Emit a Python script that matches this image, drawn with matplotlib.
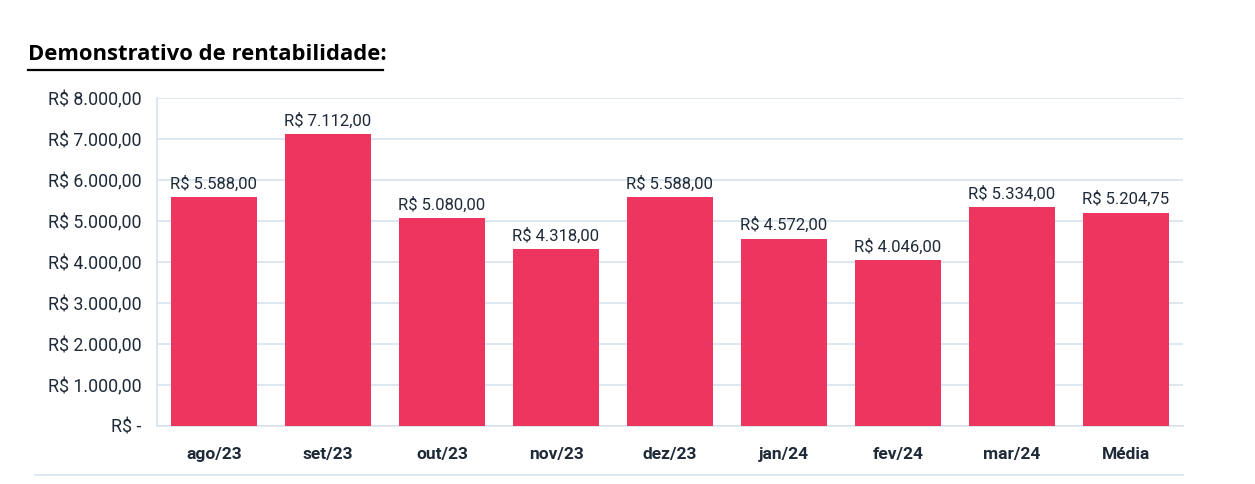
import matplotlib.pyplot as plt
from matplotlib.lines import Line2D

meses = ["ago/23", "set/23", "out/23", "nov/23", "dez/23", "jan/24", "fev/24", "mar/24", "Média"]
valores = [5588.00, 7112.00, 5080.00, 4318.00, 5588.00, 4572.00, 4046.00, 5334.00, 5204.75]
yticks = [0, 1000, 2000, 3000, 4000, 5000, 6000, 7000, 8000]

cor_barra = "#ee3560"
cor_texto = "#1e2a38"
cor_grade = "#d5e3ee"


def formata_real(v):
    if v == 0:
        return "R$ -"
    s = f"{v:,.2f}".replace(",", "X").replace(".", ",").replace("X", ".")
    return "R$ " + s


plt.rcParams["font.family"] = ["Roboto", "DejaVu Sans"]

fig = plt.figure(figsize=(12.55, 4.84), dpi=100)
ax = fig.add_axes([157 / 1255, 1 - 426 / 484, 1026 / 1255, 328 / 484])

x = range(len(meses))
barras = ax.bar(x, valores, width=0.75, color=cor_barra, zorder=3)

for b, v in zip(barras, valores):
    ax.text(b.get_x() + b.get_width() / 2, v + 130, formata_real(v),
            ha="center", va="bottom", fontsize=12, color=cor_texto)

ax.set_xlim(-0.5, len(meses) - 0.5)
ax.set_ylim(0, 8000)
ax.set_yticks(yticks)
ax.set_yticklabels([formata_real(v) for v in yticks], fontsize=12.8, color=cor_texto)
ax.set_xticks(list(x))
ax.set_xticklabels(meses, fontsize=12.5, fontweight="bold", color=cor_texto)
ax.tick_params(axis="both", length=0)
ax.tick_params(axis="y", pad=11)
ax.tick_params(axis="x", pad=15)

ax.grid(axis="y", color=cor_grade, linewidth=1.2, zorder=0)
for lado in ["top", "right"]:
    ax.spines[lado].set_visible(False)
for lado in ["left", "bottom"]:
    ax.spines[lado].set_color(cor_grade)
    ax.spines[lado].set_linewidth(1.2)

# título sublinhado
fig.text(28 / 1255, 1 - 55 / 484, "Demonstrativo de rentabilidade:", fontsize=15.8,
         fontweight="bold", color="black", family=["Open Sans", "DejaVu Sans"],
         va="center", ha="left")
fig.add_artist(Line2D([28 / 1255, 383 / 1255], [1 - 70 / 484, 1 - 70 / 484],
                      color="black", linewidth=1.6))

# linha separadora inferior
fig.add_artist(Line2D([35 / 1255, 1183 / 1255], [1 - 475 / 484, 1 - 475 / 484],
                      color=cor_grade, linewidth=1.2))

fig.savefig("out.png", dpi=100)
